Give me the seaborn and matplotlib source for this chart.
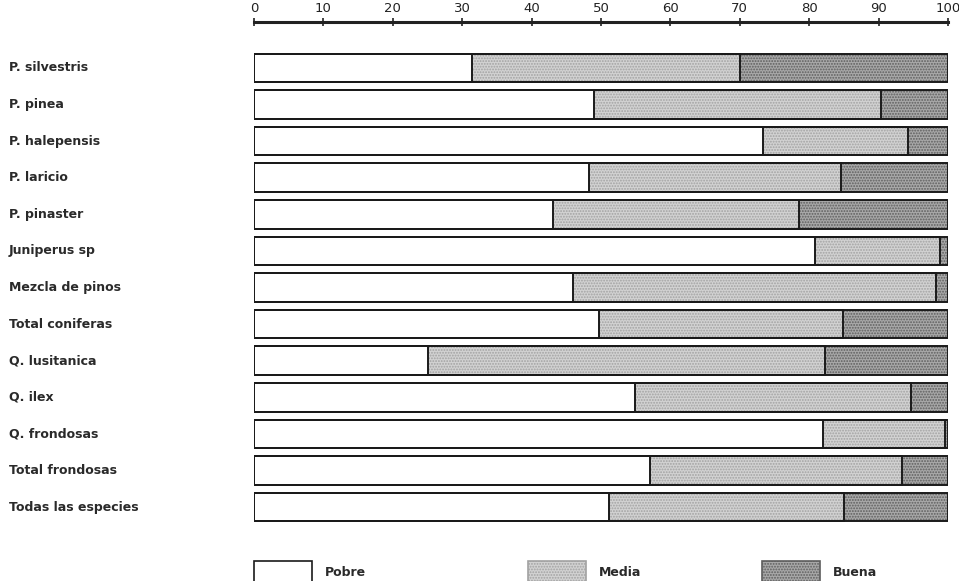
import matplotlib
matplotlib.use('Agg')
import matplotlib.pyplot as plt
import matplotlib.transforms as mtransforms
from matplotlib.patches import Patch
import seaborn as sns
import pandas as pd

species = ["P. silvestris", "P. pinea", "P. halepensis", "P. laricio", "P. pinaster",
           "Juniperus sp", "Mezcla de pinos", "Total coniferas", "Q. lusitanica",
           "Q. ilex", "Q. frondosas", "Total frondosas", "Todas las especies"]
pobre = [31.4, 49.0, 73.3, 48.3, 43.1, 80.9, 46.0, 49.7, 25.1, 54.9, 82.0, 57.1, 51.2]
media = [38.6, 41.4, 20.9, 36.3, 35.4, 18.0, 52.2, 35.2, 57.2, 39.8, 17.6, 36.3, 33.8]
buena = [30.0, 9.6, 5.8, 15.4, 21.5, 1.1, 1.8, 15.1, 17.7, 5.3, 0.4, 6.6, 15.0]
legend_labels = ["Pobre", "Media", "Buena"]
xticks = list(range(0, 101, 10))

sns.set_style("white")
plt.rcParams['font.family'] = ['DejaVu Sans']
plt.rcParams['hatch.linewidth'] = 0.9

df = pd.DataFrame({"especie": species, "pobre": pobre, "media": media, "buena": buena})
df["cum_media"] = df["pobre"] + df["media"]
df["total"] = df["cum_media"] + df["buena"]

W, H = 959, 581
fig = plt.figure(figsize=(W / 100, H / 100), dpi=100)
ax = fig.add_axes([254 / W, (H - 540) / H, (948 - 254) / W, (540 - 22) / H])

c_media, h_media = "#d2d2d2", "#a2a2a2"
c_buena, h_buena = "#a8a8a8", "#5e5e5e"
bw = 0.78

common = dict(data=df, y="especie", orient="h", width=bw, saturation=1, errorbar=None, ax=ax)
sns.barplot(x="total", color=c_buena, hatch="......", edgecolor=h_buena, linewidth=0, **common)
sns.barplot(x="cum_media", color=c_media, hatch="......", edgecolor=h_media, linewidth=0, **common)
sns.barplot(x="pobre", color="white", edgecolor="white", linewidth=0, **common)
for col in ["total", "cum_media", "pobre"]:
    sns.barplot(x=col, color="none", edgecolor="#1a1a1a", linewidth=1.4, fill=False, **common)

ax.set_xlim(0, 100)
ax.set_ylim(12.9, -1.257)
ax.set_yticks([])
ax.set_xlabel("")
ax.set_ylabel("")
ax.xaxis.tick_top()
ax.set_xticks(xticks)
ax.set_xticklabels([str(t) for t in xticks], fontsize=9.5, color="#222222")
ax.tick_params(axis="x", direction="inout", length=6, width=1.2, color="#222222", pad=2)
for s in ["left", "right", "bottom"]:
    ax.spines[s].set_visible(False)
ax.spines["top"].set_linewidth(2.2)
ax.spines["top"].set_color("#222222")

trans = mtransforms.blended_transform_factory(fig.transFigure, ax.transData)
for i, name in enumerate(species):
    ax.text(9 / W, i, name, transform=trans, ha="left", va="center",
            fontsize=9, fontweight="bold", color="#2a2a2a")

styles = [dict(facecolor="white", edgecolor="#1a1a1a"),
          dict(facecolor=c_media, edgecolor=h_media, hatch="......"),
          dict(facecolor=c_buena, edgecolor=h_buena, hatch="......")]
xpos = [254, 528, 762]
for lab, st, xp in zip(legend_labels, styles, xpos):
    fig.legend(handles=[Patch(label=lab, linewidth=1.2, **st)], loc="center left",
               bbox_to_anchor=(xp / W, (H - 572) / H), frameon=False, borderpad=0,
               borderaxespad=0, handlelength=4.6, handleheight=2.4, handletextpad=1.1,
               prop=dict(size=9, weight="bold"), labelcolor="#2a2a2a")

fig.savefig("out.png", dpi=100)
